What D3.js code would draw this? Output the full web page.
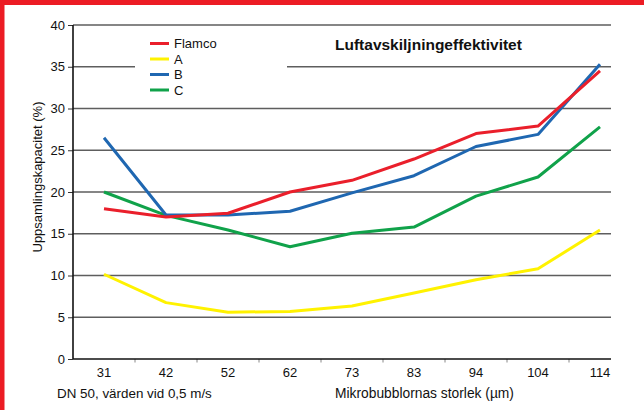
<!DOCTYPE html>
<html>
<head>
<meta charset="utf-8">
<script src="https://cdn.jsdelivr.net/npm/d3@7"></script>
<style>
  html, body { margin: 0; padding: 0; background: #fff; }
  svg { display: block; font-family: "Liberation Sans", Arial, sans-serif; }
</style>
</head>
<body>
<svg id="chart" width="644" height="410"></svg>
<script>
const categories = ["31", "42", "52", "62", "73", "83", "94", "104", "114"];
const yTicks = [0, 5, 10, 15, 20, 25, 30, 35, 40];
const seriesNames = ["Flamco", "A", "B", "C"];
const flamco = [18.0, 17.0, 17.45, 20.0, 21.4, 23.95, 27.0, 27.9, 34.5];
const seriesA = [10.15, 6.75, 5.6, 5.7, 6.35, 7.9, 9.5, 10.8, 15.45];
const seriesB = [26.5, 17.25, 17.25, 17.7, 19.9, 21.95, 25.45, 26.9, 35.3];
const seriesC = [20.0, 17.2, 15.45, 13.45, 15.05, 15.8, 19.5, 21.8, 27.8];
const seriesColors = ["#ea1f2b", "#fff200", "#1f67b1", "#10a24a"];
const titleText = "Luftavskiljningeffektivitet";
const yTitle = "Uppsamlingskapacitet (%)";
const noteText = "DN 50, värden vid 0,5 m/s";
const xTitle = "Mikrobubblornas storlek (µm)";

const series = [flamco, seriesA, seriesB, seriesC];
const svg = d3.select("#chart");

// red frame (left + top)
svg.append("rect").attr("x", 0).attr("y", 0).attr("width", 644).attr("height", 5).attr("fill", "#ec1c24");
svg.append("rect").attr("x", 0).attr("y", 0).attr("width", 4.5).attr("height", 410).attr("fill", "#ec1c24");

const pLeft = 73, pRight = 611, pTop = 25, pBottom = 359;
const x = d3.scaleBand().domain(categories).range([pLeft, pLeft + 62 * categories.length]).padding(0);
const y = d3.scaleLinear().domain([0, 40]).range([pBottom, pTop]);
const cx = c => x(c) + x.bandwidth() / 2;

// gridlines
const gridG = svg.append("g");
yTicks.filter(t => t > 0).forEach(t => {
  const segs = t === 35 ? [[pLeft, 135], [287, pRight]] : [[pLeft, pRight]];
  segs.forEach(s => {
    gridG.append("line").attr("x1", s[0]).attr("x2", s[1]).attr("y1", y(t)).attr("y2", y(t))
      .attr("stroke", "#5e5e5e").attr("stroke-width", 1.4);
  });
});

// y axis
const yAxis = d3.axisLeft(y).tickValues(yTicks).tickSize(5).tickPadding(3).tickFormat(d3.format("d"));
const yg = svg.append("g").attr("transform", `translate(${pLeft},0)`).call(yAxis);
yg.select(".domain").remove();
yg.selectAll(".tick line").attr("stroke", "#333").attr("stroke-width", 1);
yg.selectAll(".tick text").attr("font-size", 13).attr("fill", "#111")
  .attr("font-family", "Liberation Sans, Arial, sans-serif");
svg.append("line").attr("x1", pLeft).attr("x2", pLeft).attr("y1", pTop).attr("y2", pBottom)
  .attr("stroke", "#111").attr("stroke-width", 1.6);

// x axis
const boundaries = categories.map(c => x(c)).filter(v => v > pLeft && v < pRight);
svg.append("g").selectAll("line").data(boundaries).join("line")
  .attr("x1", d => d).attr("x2", d => d).attr("y1", pBottom).attr("y2", pBottom + 3.5)
  .attr("stroke", "#888").attr("stroke-width", 1);
svg.append("line").attr("x1", pLeft).attr("x2", pRight).attr("y1", pBottom).attr("y2", pBottom)
  .attr("stroke", "#111").attr("stroke-width", 1.6);
svg.append("g").selectAll("text").data(categories).join("text")
  .attr("x", d => cx(d)).attr("y", 377).attr("text-anchor", "middle")
  .attr("font-size", 13).attr("fill", "#111").text(d => d);

// lines
const line = d3.line().x((d, i) => cx(categories[i])).y(d => y(d));
const drawOrder = [1, 3, 2, 0];
drawOrder.forEach(k => {
  svg.append("path").datum(series[k]).attr("d", line)
    .attr("fill", "none").attr("stroke", seriesColors[k]).attr("stroke-width", 3)
    .attr("stroke-linejoin", "round");
});

// legend
const lg = svg.append("g");
seriesNames.forEach((n, i) => {
  const ly = 43.5 + i * 15.5;
  lg.append("line").attr("x1", 150).attr("x2", 169).attr("y1", ly).attr("y2", ly)
    .attr("stroke", seriesColors[i]).attr("stroke-width", 3);
  lg.append("text").attr("x", 174).attr("y", ly + 4.5).attr("font-size", 13).attr("fill", "#111").text(n);
});

// title
svg.append("text").attr("x", 335).attr("y", 50).attr("font-size", 15.5).attr("font-weight", "bold")
  .attr("fill", "#111").text(titleText);

// y title
svg.append("text").attr("transform", "translate(42,177) rotate(-90)").attr("text-anchor", "middle")
  .attr("font-size", 13).attr("fill", "#111").text(yTitle);

// bottom notes
svg.append("text").attr("x", 57).attr("y", 398).attr("font-size", 13.4).attr("fill", "#111").text(noteText);
svg.append("text").attr("x", 335).attr("y", 398).attr("font-size", 13.8).attr("fill", "#111").text(xTitle);
</script>
</body>
</html>
